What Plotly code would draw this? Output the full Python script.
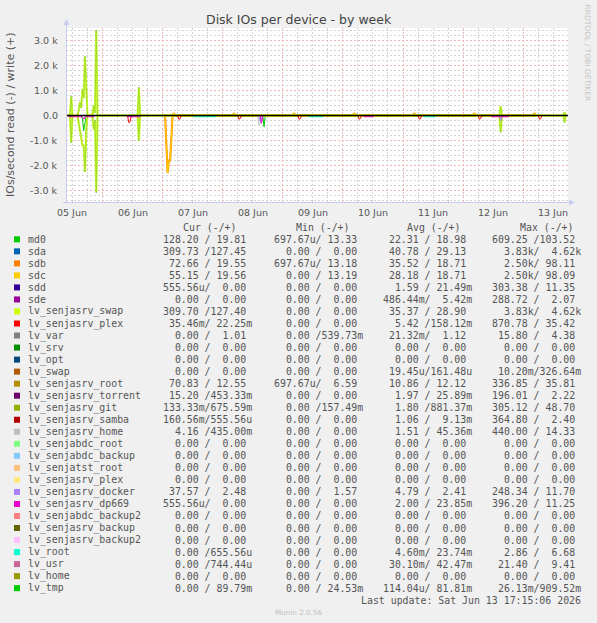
import plotly.graph_objects as go

# ---------------------------------------------------------------- data
NAMES = ["md0", "sda", "sdb", "sdc", "sdd", "sde", "lv_senjasrv_swap", "lv_senjasrv_plex",
         "lv_var", "lv_srv", "lv_opt", "lv_swap", "lv_senjasrv_root", "lv_senjasrv_torrent",
         "lv_senjasrv_git", "lv_senjasrv_samba", "lv_senjasrv_home", "lv_senjabdc_root",
         "lv_senjabdc_backup", "lv_senjatst_root", "lv_senjasrv_plex", "lv_senjasrv_docker",
         "lv_senjasrv_dp669", "lv_senjabdc_backup2", "lv_senjasrv_backup", "lv_senjasrv_backup2",
         "lv_root", "lv_usr", "lv_home", "lv_tmp"]
COLORS = ["#00CC00", "#0066B3", "#FF8000", "#FFCC00", "#330099", "#990099", "#CCFF00", "#FF0000",
          "#808080", "#008F00", "#00487D", "#B35A00", "#B38F00", "#6B006B", "#8FB300", "#B30000",
          "#BEBEBE", "#80FF80", "#80C9FF", "#FFC080", "#FFE680", "#AA80FF", "#EE00CC", "#FF8080",
          "#666600", "#FFBFFF", "#00FFCC", "#CC6699", "#999900", "#00CC00"]
CUR_R = ["128.20", "309.73", "72.66", "55.15", "555.56u", "0.00", "309.70", "35.46m", "0.00", "0.00",
         "0.00", "0.00", "70.83", "15.20", "133.33m", "160.56m", "4.16", "0.00", "0.00", "0.00",
         "0.00", "37.57", "555.56u", "0.00", "0.00", "0.00", "0.00", "0.00", "0.00", "0.00"]
CUR_W = ["19.81", "127.45", "19.55", "19.56", "0.00", "0.00", "127.40", "22.25m", "1.01", "0.00",
         "0.00", "0.00", "12.55", "453.33m", "675.59m", "555.56u", "435.00m", "0.00", "0.00", "0.00",
         "0.00", "2.48", "0.00", "0.00", "0.00", "0.00", "655.56u", "744.44u", "0.00", "89.79m"]
MIN_R = ["697.67u", "0.00", "697.67u", "0.00", "0.00", "0.00", "0.00", "0.00", "0.00", "0.00",
         "0.00", "0.00", "697.67u", "0.00", "0.00", "0.00", "0.00", "0.00", "0.00", "0.00",
         "0.00", "0.00", "0.00", "0.00", "0.00", "0.00", "0.00", "0.00", "0.00", "0.00"]
MIN_W = ["13.33", "0.00", "13.18", "13.19", "0.00", "0.00", "0.00", "0.00", "539.73m", "0.00",
         "0.00", "0.00", "6.59", "0.00", "157.49m", "0.00", "0.00", "0.00", "0.00", "0.00",
         "0.00", "1.57", "0.00", "0.00", "0.00", "0.00", "0.00", "0.00", "0.00", "24.53m"]
AVG_R = ["22.31", "40.78", "35.52", "28.18", "1.59", "486.44m", "35.37", "5.42", "21.32m", "0.00",
         "0.00", "19.45u", "10.86", "1.97", "1.80", "1.06", "1.51", "0.00", "0.00", "0.00",
         "0.00", "4.79", "2.00", "0.00", "0.00", "0.00", "4.60m", "30.10m", "0.00", "114.04u"]
AVG_W = ["18.98", "29.13", "18.71", "18.71", "21.49m", "5.42m", "28.90", "158.12m", "1.12", "0.00",
         "0.00", "161.48u", "12.12", "25.89m", "881.37m", "9.13m", "45.36m", "0.00", "0.00", "0.00",
         "0.00", "2.41", "23.85m", "0.00", "0.00", "0.00", "23.74m", "42.47m", "0.00", "81.81m"]
MAX_R = ["609.25", "3.83k", "2.50k", "2.50k", "303.38", "288.72", "3.83k", "870.78", "15.80", "0.00",
         "0.00", "10.20m", "336.85", "196.01", "305.12", "364.80", "440.00", "0.00", "0.00", "0.00",
         "0.00", "248.34", "396.20", "0.00", "0.00", "0.00", "2.86", "21.40", "0.00", "26.13m"]
MAX_W = ["103.52", "4.62k", "98.11", "98.09", "11.35", "2.07", "4.62k", "35.42", "4.38", "0.00",
         "0.00", "326.64m", "35.81", "2.22", "48.70", "2.40", "14.33", "0.00", "0.00", "0.00",
         "0.00", "11.70", "11.25", "0.00", "0.00", "0.00", "6.68", "9.41", "0.00", "909.52m"]

# time series (IOs/s); read drawn below zero, write above
SWAP_T = ["2026-06-05 09:30", "2026-06-05 11:00", "2026-06-05 11:30", "2026-06-05 12:00",
          "2026-06-05 14:00", "2026-06-05 14:30", "2026-06-05 15:00", "2026-06-05 15:30",
          "2026-06-05 16:00", "2026-06-05 16:30", "2026-06-05 17:00", "2026-06-05 17:30",
          "2026-06-05 18:00", "2026-06-05 20:00", "2026-06-05 20:30", "2026-06-05 21:00",
          "2026-06-05 21:30", "2026-06-05 22:00", "2026-06-06 14:00", "2026-06-06 14:30",
          "2026-06-06 15:00", "2026-06-12 14:30", "2026-06-12 15:00", "2026-06-12 15:30",
          "2026-06-13 16:00", "2026-06-13 16:30", "2026-06-13 17:00"]
SWAP_R = [0, 0, 1080, 0, 0, 300, 550, 750, 1200, 1200, 2260, 600, 0, 0, 550, 200, 3080, 0,
          0, 1010, 0, 0, 670, 0, 0, 270, 0]
SWAP_W = [0, 0, 760, 0, 0, 200, 530, 300, 1050, 700, 2360, 900, 0, 0, 410, 100, 3410, 0,
          0, 1120, 0, 0, 370, 0, 0, 130, 0]
SDA_T, SDA_R, SDA_W = SWAP_T, SWAP_R, SWAP_W

SDC_T = ["2026-06-07 00:30", "2026-06-07 01:00", "2026-06-07 02:00", "2026-06-07 02:30",
         "2026-06-07 03:00", "2026-06-07 04:00", "2026-06-07 04:30", "2026-06-07 05:00",
         "2026-06-08 04:00", "2026-06-08 04:30", "2026-06-08 05:00",
         "2026-06-09 04:00", "2026-06-09 04:30", "2026-06-09 05:00",
         "2026-06-10 04:00", "2026-06-10 04:30", "2026-06-10 05:00",
         "2026-06-11 04:00", "2026-06-11 04:30", "2026-06-11 05:00",
         "2026-06-12 04:00", "2026-06-12 04:30", "2026-06-12 05:00",
         "2026-06-13 04:00", "2026-06-13 04:30", "2026-06-13 05:00"]
SDC_R = [0, 0, 2300, 1800, 1800, 0, 0, 0, 0, 0, 0, 0, 0, 0, 0, 0, 0, 0, 0, 0, 0, 0, 0, 0, 0, 0]
SDC_W = [0, 0, 0, 0, 0, 0, 95, 0, 0, 95, 0, 0, 95, 0, 0, 95, 0, 0, 95, 0, 0, 95, 0, 0, 95, 0]
SDB_T, SDB_R, SDB_W = SDC_T, SDC_R, SDC_W

MD0_T = ["2026-06-05 15:30", "2026-06-05 16:00", "2026-06-05 16:30", "2026-06-05 17:00",
         "2026-06-05 17:30", "2026-06-07 04:00", "2026-06-07 04:30", "2026-06-07 05:00",
         "2026-06-08 04:00", "2026-06-08 04:30", "2026-06-08 05:00", "2026-06-08 16:00",
         "2026-06-08 16:30", "2026-06-08 17:00", "2026-06-09 04:00", "2026-06-09 04:30",
         "2026-06-09 05:00", "2026-06-10 04:00", "2026-06-10 04:30", "2026-06-10 05:00",
         "2026-06-11 04:00", "2026-06-11 04:30", "2026-06-11 05:00", "2026-06-12 04:00",
         "2026-06-12 04:30", "2026-06-12 05:00", "2026-06-13 04:00", "2026-06-13 04:30",
         "2026-06-13 05:00"]
MD0_R = [0, 150, 600, 350, 0, 0, 40, 0, 0, 40, 0, 0, 450, 0, 0, 40, 0, 0, 40, 0, 0, 40, 0,
         0, 40, 0, 0, 40, 0]
MD0_W = [0, 0, 0, 0, 0, 0, 100, 0, 0, 100, 0, 0, 0, 0, 0, 100, 0, 0, 100, 0, 0, 100, 0,
         0, 100, 0, 0, 100, 0]

PLEX_T = ["2026-06-06 10:00", "2026-06-06 10:30", "2026-06-06 11:00", "2026-06-06 11:30",
          "2026-06-07 06:00", "2026-06-07 06:30", "2026-06-07 07:00", "2026-06-07 07:30",
          "2026-06-08 06:00", "2026-06-08 06:30", "2026-06-08 07:00", "2026-06-08 07:30",
          "2026-06-09 06:00", "2026-06-09 06:30", "2026-06-09 07:00", "2026-06-09 07:30",
          "2026-06-10 06:00", "2026-06-10 06:30", "2026-06-10 07:00", "2026-06-10 07:30",
          "2026-06-11 06:00", "2026-06-11 06:30", "2026-06-11 07:00", "2026-06-11 07:30",
          "2026-06-12 06:00", "2026-06-12 06:30", "2026-06-12 07:00", "2026-06-12 07:30",
          "2026-06-13 06:00", "2026-06-13 06:30", "2026-06-13 07:00", "2026-06-13 07:30"]
PLEX_R = [0, 280, 250, 0, 0, 150, 120, 0, 0, 150, 120, 0, 0, 150, 120, 0, 0, 150, 120, 0,
          0, 150, 120, 0, 0, 150, 120, 0, 0, 150, 120, 0]
PLEX_W = [0] * 32

HOME_T = ["2026-06-08 14:00", "2026-06-08 14:30", "2026-06-08 15:00", "2026-06-08 15:30"]
HOME_R = [0, 380, 300, 0]
HOME_W = [0, 0, 0, 0]

DOCKER_T = ["2026-06-08 14:30", "2026-06-08 15:00", "2026-06-08 15:30", "2026-06-08 16:00",
            "2026-06-12 14:30", "2026-06-12 15:00", "2026-06-12 15:30"]
DOCKER_R = [0, 250, 200, 0, 0, 200, 0]
DOCKER_W = [0, 0, 0, 0, 0, 0, 0]

DP669_T = ["2026-06-05 10:00", "2026-06-05 10:30", "2026-06-05 16:00", "2026-06-05 16:30",
           "2026-06-05 17:00", "2026-06-05 20:30", "2026-06-05 21:00",
           "2026-06-06 09:30", "2026-06-06 10:00", "2026-06-06 15:00", "2026-06-06 15:30",
           "2026-06-08 15:00", "2026-06-08 15:30", "2026-06-08 16:00",
           "2026-06-10 08:00", "2026-06-10 08:30", "2026-06-10 12:00", "2026-06-10 12:30",
           "2026-06-12 11:00", "2026-06-12 11:30", "2026-06-12 18:00", "2026-06-12 18:30"]
DP669_R = [0, 50, 50, 150, 50, 50, 0, 0, 50, 50, 0, 0, 310, 0, 0, 50, 50, 0, 0, 50, 50, 0]
DP669_W = [0] * 22

ROOT_T = ["2026-06-07 12:00", "2026-06-07 12:30", "2026-06-07 21:00", "2026-06-07 21:30",
          "2026-06-09 10:00", "2026-06-09 10:30", "2026-06-09 16:00", "2026-06-09 16:30",
          "2026-06-11 08:00", "2026-06-11 08:30", "2026-06-11 13:00", "2026-06-11 13:30"]
ROOT_R = [0, 50, 50, 0, 0, 50, 50, 0, 0, 50, 50, 0]
ROOT_W = [0] * 12

SERIES = [  # (legend index, times, read, write)
    (0, MD0_T, MD0_R, MD0_W),
    (1, SDA_T, SDA_R, SDA_W),
    (2, SDB_T, SDB_R, SDB_W),
    (3, SDC_T, SDC_R, SDC_W),
    (6, SWAP_T, SWAP_R, SWAP_W),
    (7, PLEX_T, PLEX_R, PLEX_W),
    (16, HOME_T, HOME_R, HOME_W),
    (21, DOCKER_T, DOCKER_R, DOCKER_W),
    (22, DP669_T, DP669_R, DP669_W),
    (26, ROOT_T, ROOT_R, ROOT_W),
]
# line style per drawn series: (width, opacity)
STYLE = {1: (1.0, 1.0), 2: (2.0, 1.0), 3: (1.2, 1.0), 6: (2.2, 0.78)}

Y_TICKS = [3000, 2000, 1000, 0, -1000, -2000, -3000]
Y_TICK_TEXT = ["3.0 k", "2.0 k", "1.0 k", "0.0", "-1.0 k", "-2.0 k", "-3.0 k"]
X_LABELS = ["05 Jun", "06 Jun", "07 Jun", "08 Jun", "09 Jun", "10 Jun", "11 Jun", "12 Jun", "13 Jun"]
X_LABEL_T = ["2026-06-05 12:00", "2026-06-06 12:00", "2026-06-07 12:00", "2026-06-08 12:00",
             "2026-06-09 12:00", "2026-06-10 12:00", "2026-06-11 12:00", "2026-06-12 12:00",
             "2026-06-13 12:00"]
X_RANGE = ["2026-06-05 09:25:30", "2026-06-13 17:53:24"]
Y_RANGE = [-3500, 3500]

# ---------------------------------------------------------------- layout helpers
W, H = 597, 623
X0, X1, Y0, Y1 = 66, 568, 28, 203  # plot box (px)


def px(x):
    return (x - X0) / (X1 - X0)


def py(y):
    return (Y1 - y) / (Y1 - Y0)


SANS = "DejaVu Sans"
MONO = "DejaVu Sans Mono"
TXT = "#555555"

fig = go.Figure()

for idx, t, r, w in SERIES:
    col = COLORS[idx]
    lw, op = STYLE.get(idx, (1.0, 1.0))
    fig.add_trace(go.Scatter(x=t, y=[-v for v in r], mode="lines", opacity=op,
                             line=dict(color=col, width=lw), hoverinfo="skip"))
    fig.add_trace(go.Scatter(x=t, y=w, mode="lines", opacity=op,
                             line=dict(color=col, width=lw), hoverinfo="skip"))

ann = []


def text(s, x, y, size, color=TXT, family=SANS, xa="center", ya="middle", angle=0,
         xref="paper", yref="paper"):
    ann.append(dict(text=s, x=x, y=y, xref=xref, yref=yref, xanchor=xa, yanchor=ya,
                    showarrow=False, textangle=angle,
                    font=dict(family=family, size=size, color=color)))


text("Disk IOs per device - by week", px(298.5), py(19), 12.5, color="#444444")
text("IOs/second read (-) / write (+)", px(10), py(115), 11, angle=-90)
text("RRDTOOL / TOBI OETIKER", px(587.5), py(53), 7.5, color="#C4C4C4", angle=90)

for v, s in zip(Y_TICKS, Y_TICK_TEXT):
    text(s, px(60), v, 9.5, xa="right", yref="y")
for t, s in zip(X_LABEL_T, X_LABELS):
    text(s, t, py(212.5), 9.5, xref="x")

NB = "\u00a0"


def fmt(v):
    s = v if v[-1].isalpha() else v + " "
    return s.rjust(7).replace(" ", NB)


COL_END = [254, 364.5, 474, 582.7]
HEAD_END = [239, 352, 463, 576]
for s, xe in zip(["Cur (-/+)", "Min (-/+)", "Avg (-/+)", "Max (-/+)"], HEAD_END):
    text(s.replace(" ", NB), px(xe), py(227.6), 9.9, family=MONO, xa="right")

ROW0, DY = 239.3, 12.03
shapes = []
for i, name in enumerate(NAMES):
    yy = ROW0 + i * DY
    text(name, px(26), py(yy), 9.9, family=MONO, xa="left")
    cols = [(CUR_R[i], CUR_W[i]), (MIN_R[i], MIN_W[i]), (AVG_R[i], AVG_W[i]), (MAX_R[i], MAX_W[i])]
    for (a, b), xe in zip(cols, COL_END):
        text(fmt(a) + "/" + fmt(b), px(xe), py(yy), 9.9, family=MONO, xa="right")
    shapes.append(dict(type="rect", xref="paper", yref="paper", x0=px(14), x1=px(20),
                       y0=py(yy + 3), y1=py(yy - 3), fillcolor=COLORS[i], line=dict(width=0)))

text("Last update: Sat Jun 13 17:15:06 2026".replace(" ", NB), px(582.7), py(600.3), 9.9,
     family=MONO, xa="right")
text("Munin 2.0.56", px(298), py(612), 7.2, color="#C0C0C0")

AX = "#C8CCEE"
shapes += [
    dict(type="line", xref="paper", yref="y", x0=0, x1=1, y0=0, y1=0,
         line=dict(color="#000000", width=1.3), layer="above"),
    dict(type="line", xref="paper", yref="paper", x0=px(66.5), x1=px(66.5), y0=py(203.5),
         y1=py(22), line=dict(color=AX, width=1), layer="above"),
    dict(type="line", xref="paper", yref="paper", x0=px(63), x1=px(570), y0=py(202.5),
         y1=py(202.5), line=dict(color=AX, width=1), layer="above"),
    dict(type="path", xref="paper", yref="paper", fillcolor=AX, line=dict(width=0),
         path=f"M {px(63.5)} {py(25)} L {px(69.5)} {py(25)} L {px(66.5)} {py(19)} Z"),
    dict(type="path", xref="paper", yref="paper", fillcolor=AX, line=dict(width=0),
         path=f"M {px(569)} {py(199.5)} L {px(569)} {py(205.5)} L {px(575)} {py(202.5)} Z"),
]

GRID_MINOR = "#D2D2D2"
GRID_MAJOR = "#F0B4B4"
fig.update_layout(
    width=W, height=H, margin=dict(l=X0, r=W - X1, t=Y0, b=H - Y1, pad=0),
    paper_bgcolor="#F0F0F0", plot_bgcolor="#FFFFFF", showlegend=False,
    annotations=ann, shapes=shapes,
    xaxis=dict(type="date", range=X_RANGE, showticklabels=False, ticks="", zeroline=False,
               showline=False, tick0="2026-06-05", dtick=86400000, showgrid=True,
               gridcolor=GRID_MAJOR, gridwidth=1, griddash="2px,2px",
               minor=dict(tick0="2026-06-05", dtick=21600000, showgrid=True,
                          gridcolor=GRID_MINOR, gridwidth=1, griddash="2px,2px")),
    yaxis=dict(range=Y_RANGE, showticklabels=False, ticks="", zeroline=False, showline=False,
               tick0=0, dtick=1000, showgrid=True, gridcolor=GRID_MAJOR, gridwidth=1,
               griddash="2px,2px",
               minor=dict(tick0=0, dtick=200, showgrid=True, gridcolor=GRID_MINOR,
                          gridwidth=1, griddash="2px,2px")),
)
fig.write_html("out.html")
